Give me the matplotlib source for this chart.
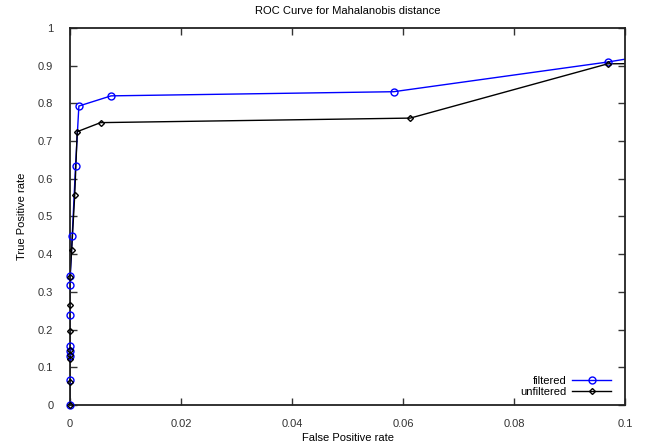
import numpy as np
import matplotlib
matplotlib.use('Agg')
import matplotlib.pyplot as plt
from matplotlib.ticker import FormatStrFormatter, MultipleLocator

plt.rcParams['font.family'] = ['Liberation Sans', 'DejaVu Sans']

# filtered ROC points (false positive rate, true positive rate)
filt_fpr = [0, 0, 0, 0, 0, 0, 0.00005, 0.00005, 0.0004, 0.001, 0.0016, 0.0074, 0.0583, 0.0970, 0.13, 1.0]
filt_tpr = [0, 0.066, 0.130, 0.144, 0.157, 0.2375, 0.318, 0.343, 0.448, 0.634, 0.793, 0.820, 0.831, 0.910, 0.99, 1.0]

# unfiltered ROC points
unf_fpr = [0, 0, 0, 0, 0, 0, 0, 0, 0.0003, 0.00085, 0.0013, 0.0055, 0.0613, 0.0969, 1.0]
unf_tpr = [0, 0.062, 0.122, 0.133, 0.146, 0.195, 0.266, 0.340, 0.412, 0.556, 0.725, 0.749, 0.761, 0.905, 1.0]

fig = plt.figure(figsize=(6.47, 4.48), dpi=100)
ax = fig.add_axes([70/647, 43/448, 555/647, 377/448])

x_max = 0.1

for fpr, tpr, col, mk, ms, lab in [
        (filt_fpr, filt_tpr, '#0000ff', 'o', 5, 'filtered'),
        (unf_fpr, unf_tpr, 'black', 'D', 3, 'unfiltered')]:
    fpr = np.array(fpr)
    tpr = np.array(tpr)
    ax.plot(fpr, tpr, color=col, lw=1)
    m = fpr <= x_max
    ax.plot(fpr[m], tpr[m], linestyle='none', marker=mk, ms=ms, mfc='none',
            mec=col, mew=1, clip_on=False, zorder=3)
    # legend handle
    ax.plot([], [], color=col, lw=1, marker=mk, ms=ms, mfc='none', mec=col,
            mew=1, label=lab)

ax.set_xlim(0, x_max)
ax.set_ylim(0, 1)
ax.xaxis.set_major_locator(MultipleLocator(0.02))
ax.yaxis.set_major_locator(MultipleLocator(0.1))
ax.xaxis.set_major_formatter(FormatStrFormatter('%g'))
ax.yaxis.set_major_formatter(FormatStrFormatter('%g'))
ax.tick_params(direction='in', length=5, width=1, top=True, right=True,
               labelsize=8, colors='#333333')
ax.tick_params(axis='y', pad=12)
ax.tick_params(axis='x', pad=10)
for s in ax.spines.values():
    s.set_linewidth(1.3)
    s.set_color('#222222')

ax.set_title('ROC Curve for Mahalanobis distance', fontsize=8, pad=10)
ax.set_xlabel('False Positive rate', fontsize=8, labelpad=3)
ax.set_ylabel('True Positive rate', fontsize=8, labelpad=8)

ax.legend(loc='lower right', bbox_to_anchor=(0.99, 0.0), frameon=False,
          markerfirst=False, fontsize=8, handlelength=3.5, handletextpad=0.5,
          labelspacing=0.1, borderaxespad=0.35)

fig.savefig('out.png', dpi=100)
